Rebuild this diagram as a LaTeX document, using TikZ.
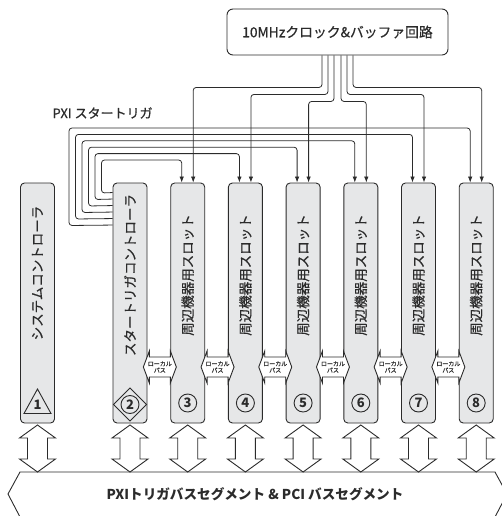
\documentclass[tikz,border=0pt]{standalone}
\usepackage{fontspec}
\setmainfont{Noto Sans CJK JP}[UprightFeatures={FakeBold=0.6}]
\usepackage{xcolor}
\usepackage{tikz}
\usetikzlibrary{arrows.meta, positioning, calc}

\definecolor{slotgray}{HTML}{E6E7E8}
\definecolor{linegray}{HTML}{2B2B2B}

\tikzset{
  slot/.style={draw=linegray, fill=slotgray, line width=0.9pt, rounded corners=4pt,
    minimum width=34pt, minimum height=240pt, inner sep=0pt},
  slottext/.style={rotate=90, text=linegray, font=\fontsize{13.5}{15}\selectfont},
  slotnum/.style={circle, draw=linegray, line width=0.9pt, minimum size=18pt, inner sep=0pt,
    text=linegray, font=\fontsize{13}{15}\selectfont\bfseries},
  wire/.style={draw=linegray, line width=0.8pt, rounded corners=3pt},
  busarrow/.style={draw=linegray, fill=white, line width=0.9pt, line join=miter},
}

\begin{document}
\begin{tikzpicture}[x=1pt, y=-1pt, >={Latex[length=6pt,width=4.5pt]}]
\useasboundingbox (0,0) rectangle (502,516);
\clip (0,0) rectangle (502,516);

% Clock
\node[draw=linegray, line width=0.9pt, rounded corners=6pt, minimum width=221pt, minimum height=46pt,
  text=linegray, font=\fontsize{13.8}{16}\selectfont] (clk) at (337.5,32) {10MHzクロック\&バッファ回路};

% Slots
\node[slot] (s1) at (37.5,303) {};
\foreach \i in {2,...,8} {
    \node[slot] (s\i) at ({130+(\i-2)*57.7},303) {};
}
\node[slottext] (t1) at (s1.center |- 0,273) {システムコントローラ};
\node[slottext] (t2) at (s2.center |- 0,275) {スタートリガコントローラ};
\foreach \i in {3,...,8} {
    \node[slottext] (t\i) at (s\i.center |- 0,275) {周辺機器用スロット};
    \node[slotnum] (n\i) at (s\i.center |- 0,403) {\i};
}
\node[text=linegray, font=\fontsize{13}{15}\selectfont\bfseries, inner sep=0pt] (n1) at (s1.center |- 0,405) {1};
\draw[linegray, line width=0.9pt] ($(n1)+(0,-16)$) -- ($(n1)+(13.5,8.5)$) -- ($(n1)+(-13.5,8.5)$) -- cycle;
\node[slotnum] (n2) at (s2.center |- 0,404.5) {2};
\draw[linegray, line width=0.9pt] ($(n2)+(0,-16.5)$) -- ($(n2)+(16.5,0)$) -- ($(n2)+(0,16.5)$) -- ($(n2)+(-16.5,0)$) -- cycle;

% Clock lines
\foreach \j/\o/\l in {3/-15.5/88, 4/-9.5/95, 5/-3.5/102, 6/3.5/102, 7/9.5/95, 8/15.5/88} {
    \draw[wire, ->] ($(clk.south)+(\o,0)$) -- ++(0,{\l-56}) -| ($(s\j.north)+(5.5,0)$);
}

% Star trigger
\node[anchor=west, text=linegray, font=\fontsize{13}{15}\selectfont] (pxi) at (49,113) {PXI スタートリガ};
\foreach \j in {3,...,8} {
    \pgfmathsetmacro\k{\j-3}
    \draw[wire, ->] ($(s2.north west)+(0,{10+6.5*\k})$) -- ({101.5-6.5*\k},{193+6.5*\k})
        -- ({101.5-6.5*\k},{160-6.4*\k}) -| ($(s\j.north)+(-6,0)$);
}

% Local bus
\foreach \i in {2,...,7} {
    \draw[busarrow] ($(s\i.east |- 0,367)+(12.4,0)$) coordinate (lb\i)
        +(-16.5,0) -- +(-10.5,-16) -- +(-10.5,-10) -- +(10.5,-10) -- +(10.5,-16) -- +(16.5,0)
        -- +(10.5,16) -- +(10.5,10) -- +(-10.5,10) -- +(-10.5,16) -- cycle;
    \node[align=center, inner sep=0pt, text=linegray, font=\fontsize{6}{6.5}\selectfont] (lbt\i) at (lb\i) {ローカル\\バス};
}

% PXI / PCI bus
\foreach \i in {1,...,8} {
    \draw[busarrow] (s\i.center |- 0,425) coordinate (ba\i)
        -- +(18,13) -- +(10,13) -- +(10,34) -- +(18,34) -- +(0,47)
        -- +(-18,34) -- +(-10,34) -- +(-10,13) -- +(-18,13) -- cycle;
}
\draw[linegray, line width=0.9pt] (20,472) -- (495,472) -- (507,494) -- (495,517) -- (20,517) -- (8,494) -- cycle;
\node[text=linegray, font=\fontsize{13.6}{15}\selectfont\bfseries] (bus) at (255,494) {PXIトリガバスセグメント \& PCI バスセグメント};
\end{tikzpicture}
\end{document}
